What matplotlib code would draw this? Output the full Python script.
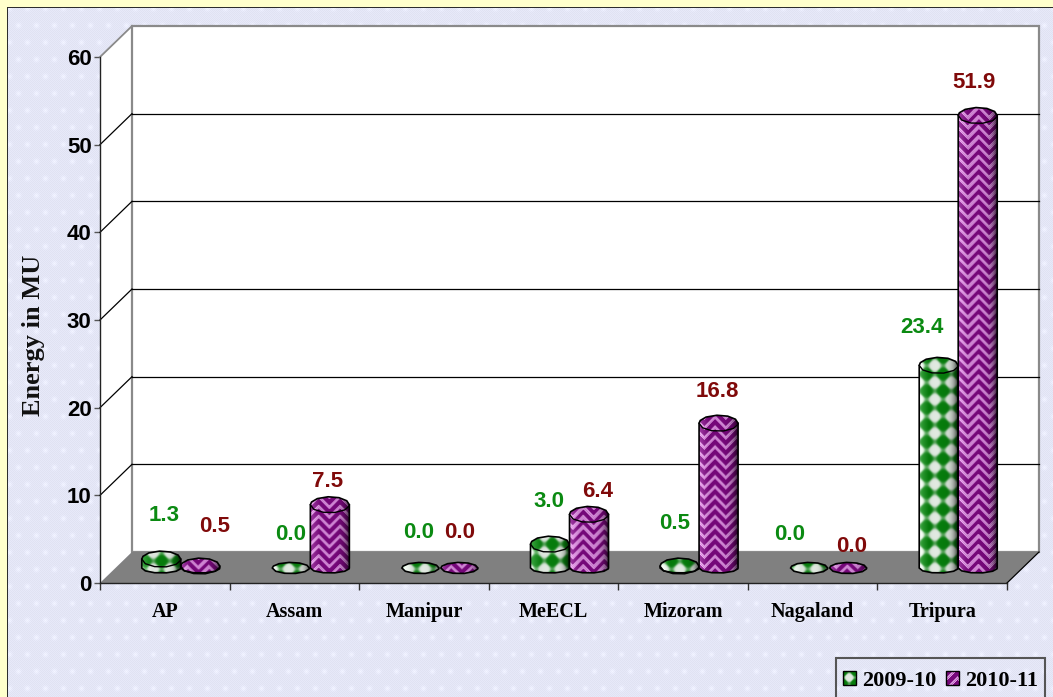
import numpy as np
import matplotlib
matplotlib.use("Agg")
import matplotlib.pyplot as plt
from matplotlib.patches import Polygon, PathPatch, Patch, Rectangle
from matplotlib.path import Path

categories = ["AP", "Assam", "Manipur", "MeECL", "Mizoram", "Nagaland", "Tripura"]
values_2009 = [1.3, 0.0, 0.0, 3.0, 0.5, 0.0, 23.4]
values_2010 = [0.5, 7.5, 0.0, 6.4, 16.8, 0.0, 51.9]
labels_2009 = ["1.3", "0.0", "0.0", "3.0", "0.5", "0.0", "23.4"]
labels_2010 = ["0.5", "7.5", "0.0", "6.4", "16.8", "0.0", "51.9"]
yticks = [0, 10, 20, 30, 40, 50, 60]

# where the value labels sit relative to the bar top, pixels
nudge_2009 = [(3, 41), (0, 33), (-2, 35), (-1, 40), (-5, 40), (-20, 34), (-17, 35)]
nudge_2010 = [(14, 37), (-2, 21), (0, 35), (9, 20), (-1, 29), (3, 22), (-4, 31)]

W, H = 1053, 697
PX_X = 907 / 7      # pixels per category
PX_Y = 526 / 60     # pixels per MU
DEPTH_X = 32 / PX_X
DEPTH_Y = 31 / PX_Y
BASE_Y = 15 / PX_Y
TOP_DROP = 2.5 / PX_Y
BAR_W = 19.5 / PX_X
CAP_H = 8 / PX_Y
FOOT_H = 5 / PX_Y

NARROW = ["Liberation Sans"]
SERIF = ["Liberation Serif", "DejaVu Serif"]
GREEN_TXT = "#0b8a12"
RED_TXT = "#800a0a"


def background():
    yy, xx = np.mgrid[0:H, 0:W]
    img = np.zeros((H, W, 3))
    img[:] = np.array([255, 255, 204]) / 255
    base = np.array([224, 226, 242]) / 255
    tex = ((xx + yy) % 2) * 0.03
    spot = np.exp(-(((xx + (yy // 17) * 9) % 18 - 9) ** 2 + (yy % 17 - 8) ** 2) / 6) * 0.05
    panel = base[None, None, :] + (tex + spot)[:, :, None]
    mask = (xx >= 8) & (yy >= 8)
    img[mask] = np.clip(panel, 0, 1)[mask]
    line = ((xx == 7) & (yy >= 7)) | ((yy == 7) & (xx >= 7))
    img[line] = 0.18
    return img


def green_tex(xp, yp):
    s = np.sin(np.pi * (xp + yp) / 17) * np.sin(np.pi * (xp - yp) / 17)
    t = 0.5 + 0.5 * np.tanh((s + 0.08) * 4)
    dark = np.array([6, 124, 12]) / 255
    light = np.array([226, 234, 226]) / 255
    return light + (dark - light) * t[:, :, None]


def purple_tex(xp, yp):
    # zigzag stripes that flip direction every 11 px
    col = (xp // 11).astype(int)
    tri = np.where(col % 2 == 0, xp % 11, 11 - xp % 11)
    z = (yp + tri) % 10
    t = np.where(z < 5.6, 1.0, 0.0)
    dots = ((xp.astype(int) + yp.astype(int)) % 2) * 0.16
    dark = np.array([118, 8, 122]) / 255
    light = np.array([186, 112, 190]) / 255
    out = light + (dark - light) * t[:, :, None]
    return np.clip(out + (dots * (1 - t))[:, :, None], 0, 1)


def cap_points(cx, cy, half_w, half_h, angles):
    return [(cx + half_w * np.cos(a), cy + half_h * np.sin(a)) for a in angles]


def draw_bar(ax, cx, value, tex, order, flat=False):
    base = BASE_Y
    top = base + value - (0 if flat else TOP_DROP)
    half_w = BAR_W * (0.95 if flat else 1.0)
    half_h = CAP_H * (0.7 if flat else 1.0)
    foot = half_h if flat else FOOT_H
    up = np.radians([0, 30, 62, 95, 130, 160, 180])
    down = np.radians([180, 215, 250, 285, 320, 350, 360])
    pts = cap_points(cx, top, half_w, half_h, up) + cap_points(cx, base, half_w, foot, down)
    path = Path(pts + [pts[0]], closed=True)
    sil = PathPatch(path, transform=ax.transData, facecolor="none", edgecolor="black",
                    lw=1.2, zorder=order + 0.2, clip_on=False)

    # texture for the bounding box of the bar, with cylinder shading
    l, r = cx - half_w, cx + half_w
    b, t = base - max(foot, half_h), top + half_h
    nx = int(np.ceil((r - l) * PX_X)) + 1
    ny = int(np.ceil((t - b) * PX_Y)) + 1
    x0 = (l * PX_X + 100)
    y0 = 583 - t * PX_Y
    yp, xp = np.mgrid[0:ny, 0:nx]
    arr = tex(x0 + xp.astype(float), y0 + yp.astype(float))
    u = np.linspace(-1, 1, nx)[None, :, None]
    shade = 1 - 0.10 * np.abs(u) ** 2 - 0.6 * np.clip(u, 0, 1) ** 4
    glow = 0.4 * np.clip(-u - 0.5, 0, 1)
    arr = np.clip(arr * shade + glow, 0, 1)
    im = ax.imshow(arr, extent=(l, r, b, t), aspect="auto", origin="upper",
                   interpolation="bilinear", zorder=order, clip_on=True)
    clip = PathPatch(path, transform=ax.transData, facecolor="none", edgecolor="none")
    ax.add_patch(clip)
    im.set_clip_path(clip)
    ax.add_patch(sil)

    if not flat:
        # front rim of the top face
        a = np.radians([180, 215, 250, 285, 320, 350, 360])
        xs, ys = zip(*cap_points(cx, top, half_w, half_h, a))
        ax.plot(xs, ys, color="black", lw=1.0, zorder=order + 0.3, clip_on=False)


fig = plt.figure(figsize=(W / 100, H / 100), dpi=100)
fig.figimage(background(), xo=0, yo=0, origin="upper", zorder=-1, resize=False)

ax = fig.add_axes([100 / W, (H - 583) / H, 907 / W, 526 / H])
ax.patch.set_visible(False)
n = len(categories)

# walls and floor of the 3D box
ax.add_patch(Polygon([(0, 0), (0, 60), (DEPTH_X, 60 + DEPTH_Y), (DEPTH_X, DEPTH_Y)],
                     facecolor="white", edgecolor="none", zorder=1, clip_on=False))
ax.add_patch(Polygon([(DEPTH_X, DEPTH_Y), (DEPTH_X, 60 + DEPTH_Y), (n + DEPTH_X, 60 + DEPTH_Y), (n + DEPTH_X, DEPTH_Y)],
                     facecolor="white", edgecolor="#8a8a8a", lw=1.6, zorder=1, clip_on=False))
for v in yticks[1:]:
    color, lw = ("#8a8a8a", 1.3) if v == 60 else ("black", 0.9)
    ax.plot([0, DEPTH_X], [v, v + DEPTH_Y], color=color, lw=lw, zorder=2, clip_on=False)
    if v < 60:
        ax.plot([DEPTH_X, n + DEPTH_X], [v + DEPTH_Y, v + DEPTH_Y], color="black", lw=0.9, zorder=2, clip_on=False)
ax.add_patch(Polygon([(0, 0), (n, 0), (n + DEPTH_X, DEPTH_Y), (DEPTH_X, DEPTH_Y)],
                     facecolor="#808080", edgecolor="none", zorder=3, clip_on=False))
ax.plot([n, n + DEPTH_X], [0, DEPTH_Y], color="black", lw=0.9, zorder=3, clip_on=False)

for i in range(n):
    c = i + 0.5 + DEPTH_X / 2
    for j, (vals, tex, labs, nudge, col) in enumerate([
        (values_2009, green_tex, labels_2009, nudge_2009, GREEN_TXT),
        (values_2010, purple_tex, labels_2010, nudge_2010, RED_TXT),
    ]):
        cx = c + (j * 2 - 1) * BAR_W
        draw_bar(ax, cx, vals[i], tex, 4 + i + j * 0.5, flat=vals[i] == 0)
        ax.annotate(labs[i], xy=(cx, BASE_Y + vals[i]), xycoords="data",
                    xytext=(nudge[i][0] * 0.72, nudge[i][1] * 0.72), textcoords="offset points",
                    ha="center", va="center", fontsize=16, fontweight="bold",
                    color=col, family=NARROW, zorder=20, annotation_clip=False)

ax.set_xlim(0, n)
ax.set_ylim(0, 60)
ax.set_yticks(yticks)
ax.set_yticklabels([str(v) for v in yticks], fontsize=16, fontweight="bold", family=NARROW)
ax.set_xticks(np.arange(n + 1))
ax.set_xticklabels([])
ax.set_xticks(np.arange(n) + 0.5, minor=True)
ax.set_xticklabels(categories, minor=True, fontsize=14.5, fontweight="bold", family=SERIF)
ax.tick_params(axis="x", which="major", length=5, width=1, color="#333333", direction="out")
ax.tick_params(axis="x", which="minor", length=0, pad=14)
ax.tick_params(axis="y", length=4.5, width=1, color="#555555", pad=1.5)
for s in ["top", "right"]:
    ax.spines[s].set_visible(False)
for s in ["left", "bottom"]:
    ax.spines[s].set_linewidth(1.0)
    ax.spines[s].set_color("#222222")
    ax.spines[s].set_zorder(3.5)

fig.text(34 / W, 1 - 335 / H, "Energy in MU", rotation=90, ha="center", va="center",
         fontsize=19, fontweight="bold", family=SERIF, color="#111111")

# legend box runs off the bottom edge like the original
fig.add_artist(Rectangle((836 / W, -5 / H), 209 / W, (H - 658 + 5) / H, transform=fig.transFigure,
                         facecolor="none", edgecolor="#555555", lw=1.5, zorder=4))
handles = [Patch(facecolor="none", edgecolor="black", label="2009-10"),
           Patch(facecolor="none", edgecolor="black", label="2010-11")]
leg = fig.legend(handles=handles, ncol=2, loc="upper left", bbox_to_anchor=(836 / W, 1 - 664 / H),
                 prop={"family": SERIF, "weight": "bold", "size": 16}, frameon=False,
                 borderpad=0.3, handlelength=0.6, handleheight=0.6, handletextpad=0.28,
                 columnspacing=0.42, borderaxespad=0)

# textured swatches under the legend handles
fig.canvas.draw()
for patch, tex in zip(leg.get_patches(), [green_tex, purple_tex]):
    bb = patch.get_window_extent()
    w, h = int(round(bb.width)), int(round(bb.height))
    yp, xp = np.mgrid[0:h, 0:w]
    if tex is green_tex:
        swatch = green_tex(xp.astype(float) * 1.4 - 8, yp.astype(float) * 1.4)
    else:
        swatch = purple_tex(xp.astype(float), yp.astype(float))
    fig.figimage(swatch, xo=int(round(bb.x0)), yo=int(round(bb.y0)), origin="upper", zorder=5, resize=False)
    patch.set_zorder(6)

fig.savefig("out.png", dpi=100)
